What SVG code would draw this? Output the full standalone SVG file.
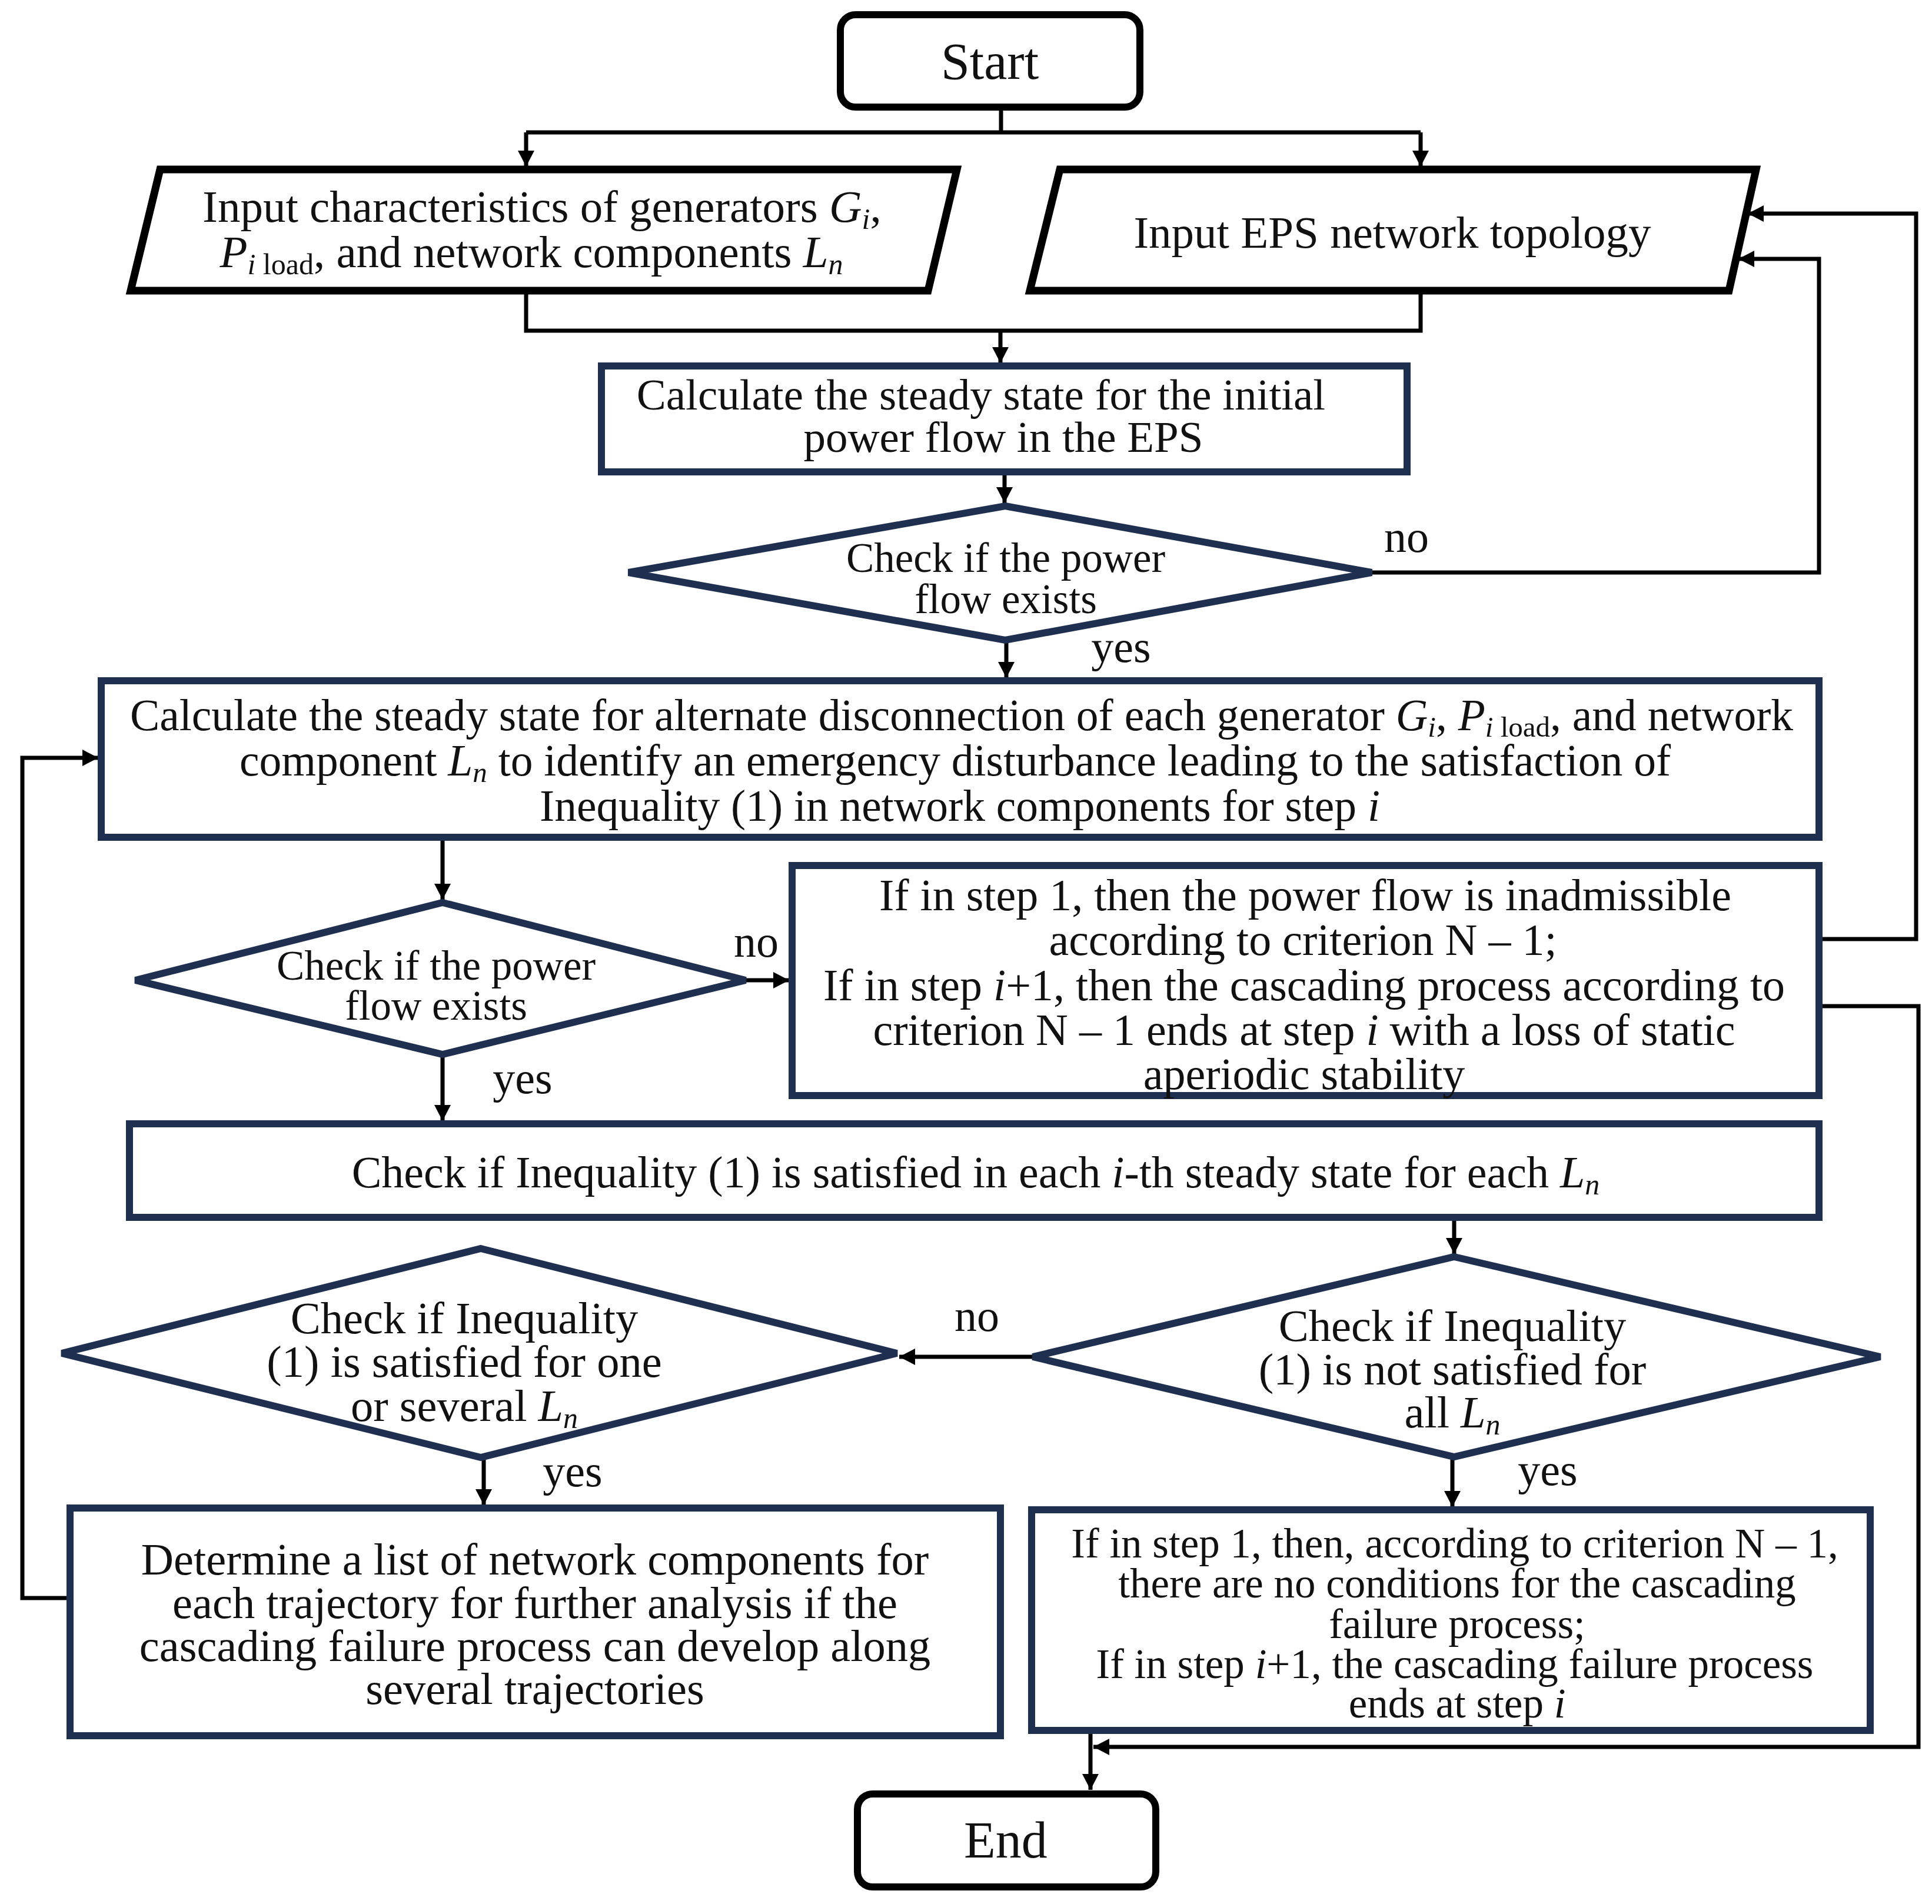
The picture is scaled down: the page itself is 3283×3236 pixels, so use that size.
<svg xmlns="http://www.w3.org/2000/svg" width="3283" height="3236" viewBox="0 0 3283 3236">
<style>
text{font-family:"Liberation Serif","Times New Roman",serif;fill:#111;text-anchor:middle}
.term{fill:#fff;stroke:#000;stroke-width:12}
.io{fill:#fff;stroke:#000;stroke-width:13;stroke-linejoin:miter}
.box{fill:#fff;stroke:#1f2f4f;stroke-width:12}
.dec{fill:#fff;stroke:#1f2f4f;stroke-width:12;stroke-linejoin:miter}
.con{fill:none;stroke:#000;stroke-width:7}
.arr{marker-end:url(#ah)}
.it{font-style:italic}
.lbl{font-size:76px}
</style>
<defs>
<marker id="ah" markerUnits="userSpaceOnUse" markerWidth="27" markerHeight="28" viewBox="0 0 27 28" refX="27" refY="14" orient="auto">
<path d="M0,0 L27,14 L0,28 z" fill="#000"/>
</marker>
</defs>
<rect width="3283" height="3236" fill="#fff"/>

<g id="connectors">
<path class="con" d="M1701,182 V225 M894,225 H2414"/>
<path class="con arr" d="M894,225 V283"/>
<path class="con arr" d="M2414,225 V283"/>
<path class="con" d="M894,494 V562 H2414 V494"/>
<path class="con arr" d="M1700,562 V617"/>
<path class="con arr" d="M1707,802 V855"/>
<path class="con arr" d="M2331,973 H3091 V440 H2954"/>
<path class="con arr" d="M1710,1088 V1152"/>
<path class="con arr" d="M3091,1596 H3256 V363 H2970"/>
<path class="con arr" d="M752,1423 V1529"/>
<path class="con arr" d="M1267,1666 H1341"/>
<path class="con arr" d="M752,1792 V1905"/>
<path class="con arr" d="M2471,2069 V2131"/>
<path class="con arr" d="M1755,2306 H1528"/>
<path class="con arr" d="M822,2477 V2558"/>
<path class="con arr" d="M2468,2477 V2561"/>
<path class="con arr" d="M119,2716 H38 V1288 H167"/>
<path class="con arr" d="M3091,1710 H3260 V2969 H1858"/>
<path class="con arr" d="M1853,2941 V3042"/>
<text class="lbl" x="2390" y="938">no</text>
<text class="lbl" x="1905" y="1125">yes</text>
<text class="lbl" x="1285" y="1626">no</text>
<text class="lbl" x="888" y="1858">yes</text>
<text class="lbl" x="1660" y="2262">no</text>
<text class="lbl" x="973" y="2526">yes</text>
<text class="lbl" x="2630" y="2524">yes</text>
</g>

<g id="start">
<rect class="term" x="1428" y="25" width="509" height="157" rx="26"/>
<text x="1682" y="134" font-size="88">Start</text>
</g>

<g id="input-characteristics">
<polygon class="io" points="272,288 1626,288 1577,494 222,494"/>
<text x="921" y="377" font-size="77">Input characteristics of generators <tspan class="it">G</tspan><tspan class="it" font-size="50" dy="12">i</tspan><tspan dy="-12">,</tspan></text>
<text x="903" y="454" font-size="77"><tspan class="it">P</tspan><tspan class="it" font-size="50" dy="12">i</tspan><tspan font-size="50"> load</tspan><tspan dy="-12">, and network components </tspan><tspan class="it">L</tspan><tspan class="it" font-size="50" dy="12">n</tspan></text>
</g>

<g id="input-topology">
<polygon class="io" points="1801,288 2984,288 2938,494 1750,494"/>
<text x="2366" y="421" font-size="77">Input EPS network topology</text>
</g>

<g id="calc-initial">
<rect class="box" x="1022" y="622" width="1369" height="180"/>
<text x="1667" y="696" font-size="75">Calculate the steady state for the initial</text>
<text x="1705" y="768" font-size="75">power flow in the EPS</text>
</g>

<g id="check-flow-1">
<polygon class="dec" points="1708,860 2331,973 1708,1088 1068,973"/>
<text x="1709" y="972" font-size="71">Check if the power</text>
<text x="1709" y="1042" font-size="71">flow exists</text>
</g>

<g id="calc-disconnection">
<rect class="box" x="172" y="1157" width="2919" height="266"/>
<text x="1634" y="1241" font-size="75.5">Calculate the steady state for alternate disconnection of each generator <tspan class="it">G</tspan><tspan class="it" font-size="49" dy="11">i</tspan><tspan dy="-11">, </tspan><tspan class="it">P</tspan><tspan class="it" font-size="49" dy="11">i</tspan><tspan font-size="49"> load</tspan><tspan dy="-11">, and network</tspan></text>
<text x="1623" y="1318" font-size="75.5">component <tspan class="it">L</tspan><tspan class="it" font-size="49" dy="11">n</tspan><tspan dy="-11"> to identify an emergency disturbance leading to the satisfaction of</tspan></text>
<text x="1631" y="1395" font-size="75.5">Inequality (1) in network components for step <tspan class="it">i</tspan></text>
</g>

<g id="check-flow-2">
<polygon class="dec" points="752,1534 1267,1666 752,1792 230,1666"/>
<text x="741" y="1665" font-size="71">Check if the power</text>
<text x="741" y="1733" font-size="71">flow exists</text>
</g>

<g id="inadmissible">
<rect class="box" x="1346" y="1471" width="1745" height="391"/>
<text x="2218" y="1547" font-size="76">If in step 1, then the power flow is inadmissible</text>
<text x="2214" y="1623" font-size="76">according to criterion N – 1;</text>
<text x="2216" y="1700" font-size="76">If in step <tspan class="it">i</tspan>+1, then the cascading process according to</text>
<text x="2216" y="1776" font-size="76">criterion N – 1 ends at step <tspan class="it">i</tspan> with a loss of static</text>
<text x="2216" y="1851" font-size="76">aperiodic stability</text>
</g>

<g id="check-inequality">
<rect class="box" x="220" y="1910" width="2871" height="159"/>
<text x="1658" y="2018" font-size="76">Check if Inequality (1) is satisfied in each <tspan class="it">i</tspan>-th steady state for each <tspan class="it">L</tspan><tspan class="it" font-size="50" dy="12">n</tspan></text>
</g>

<g id="check-one-or-several">
<polygon class="dec" points="817,2122 1524,2300 817,2477 105,2300"/>
<text x="789" y="2266" font-size="76.5">Check if Inequality</text>
<text x="789" y="2340" font-size="76.5">(1) is satisfied for one</text>
<text x="789" y="2415" font-size="76.5">or several <tspan class="it">L</tspan><tspan class="it" font-size="50" dy="12">n</tspan></text>
</g>

<g id="check-not-satisfied">
<polygon class="dec" points="2471,2136 3195,2306 2471,2476 1755,2306"/>
<text x="2468" y="2279" font-size="76.5">Check if Inequality</text>
<text x="2468" y="2353" font-size="76.5">(1) is not satisfied for</text>
<text x="2468" y="2426" font-size="76.5">all <tspan class="it">L</tspan><tspan class="it" font-size="50" dy="12">n</tspan></text>
</g>

<g id="list-components">
<rect class="box" x="119" y="2563" width="1581" height="387"/>
<text x="909" y="2676" font-size="76.5">Determine a list of network components for</text>
<text x="909" y="2750" font-size="76.5">each trajectory for further analysis if the</text>
<text x="909" y="2823" font-size="76.5">cascading failure process can develop along</text>
<text x="909" y="2896" font-size="76.5">several trajectories</text>
</g>

<g id="no-conditions">
<rect class="box" x="1753" y="2566" width="1425" height="375"/>
<text x="2472" y="2647" font-size="71">If in step 1, then, according to criterion N – 1,</text>
<text x="2476" y="2715" font-size="71">there are no conditions for the cascading</text>
<text x="2476" y="2784" font-size="71">failure process;</text>
<text x="2472" y="2852" font-size="71">If in step <tspan class="it">i</tspan>+1, the cascading failure process</text>
<text x="2476" y="2919" font-size="71">ends at step <tspan class="it">i</tspan></text>
</g>

<g id="end">
<rect class="term" x="1457" y="3049" width="507" height="158" rx="26"/>
<text x="1709" y="3157" font-size="88">End</text>
</g>
</svg>
